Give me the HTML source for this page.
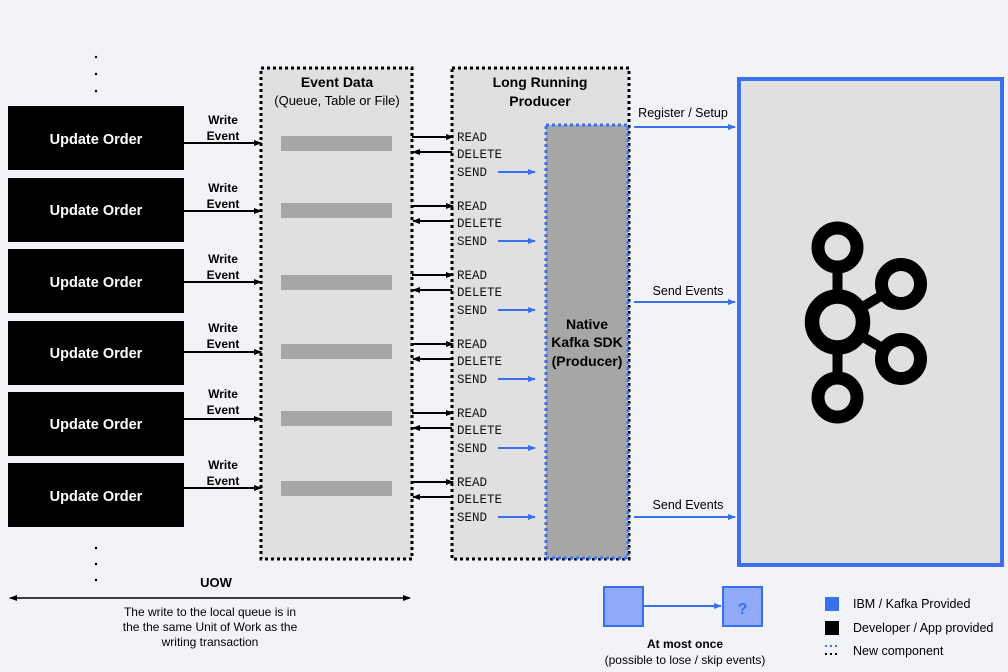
<!DOCTYPE html>
<html><head><meta charset="utf-8"><style>
html,body{margin:0;padding:0;background:#f2f3f7;}
svg{display:block;font-family:"Liberation Sans",Arial,sans-serif;}
.m{font-family:"Liberation Mono",monospace;font-size:12.5px;fill:#111;}
</style></head><body>
<svg width="1008" height="672" viewBox="0 0 1008 672" xmlns="http://www.w3.org/2000/svg">
<defs>
<marker id="ab" markerWidth="8" markerHeight="8" refX="7" refY="4" orient="auto" markerUnits="userSpaceOnUse"><path d="M0,1 L8,4 L0,7z" fill="#000"/></marker>
<marker id="au" markerWidth="8" markerHeight="8" refX="7" refY="4" orient="auto" markerUnits="userSpaceOnUse"><path d="M0,1 L8,4 L0,7z" fill="#3a6ff0"/></marker>
<marker id="as" markerWidth="8" markerHeight="8" refX="1" refY="4" orient="auto" markerUnits="userSpaceOnUse"><path d="M8,1 L0,4 L8,7z" fill="#000"/></marker>
</defs>
<rect width="1008" height="672" fill="#f2f3f7"/>
<!-- dots -->
<g fill="#000"><circle cx="96" cy="57" r="1.2"/><circle cx="96" cy="74" r="1.2"/><circle cx="96" cy="91" r="1.2"/><circle cx="96" cy="548" r="1.2"/><circle cx="96" cy="564" r="1.2"/><circle cx="96" cy="580" r="1.2"/></g>
<!-- Event Data box -->
<rect x="261" y="68" width="151" height="491" fill="#e0e0e0" stroke="#000" stroke-width="3" stroke-dasharray="3,3"/>
<text x="337" y="87" text-anchor="middle" font-size="14" font-weight="bold">Event Data</text>
<text x="337" y="105" text-anchor="middle" font-size="13">(Queue, Table or File)</text>
<!-- Producer box -->
<rect x="452" y="68" width="177" height="491" fill="#e0e0e0" stroke="#000" stroke-width="3" stroke-dasharray="3,3"/>
<text x="540" y="87" text-anchor="middle" font-size="14" font-weight="bold">Long Running</text>
<text x="540" y="106" text-anchor="middle" font-size="14" font-weight="bold">Producer</text>
<rect x="546" y="125" width="82" height="433" fill="#a6a6a6" stroke="#3a6ff0" stroke-width="3" stroke-dasharray="3,3"/>
<text x="587" y="329" text-anchor="middle" font-size="14" font-weight="bold">Native</text>
<text x="587" y="347" text-anchor="middle" font-size="14" font-weight="bold">Kafka SDK</text>
<text x="587" y="366" text-anchor="middle" font-size="14" font-weight="bold">(Producer)</text>
<!-- rows -->
<g id="rows">
<g transform="translate(0,0)">
<rect x="8" y="106" width="176" height="64" fill="#000"/><text x="96" y="144" text-anchor="middle" fill="#fff" font-size="14.5" font-weight="bold">Update Order</text>
<text x="223" y="124" text-anchor="middle" font-size="12" font-weight="bold">Write</text><text x="223" y="140" text-anchor="middle" font-size="12" font-weight="bold">Event</text>
<line x1="184" y1="143" x2="261" y2="143" stroke="#000" stroke-width="2" marker-end="url(#ab)"/>
<rect x="281" y="136" width="111" height="15" fill="#a6a6a6"/>
</g>
<g transform="translate(0,71)">
<rect x="8" y="107" width="176" height="64" fill="#000"/><text x="96" y="144" text-anchor="middle" fill="#fff" font-size="14.5" font-weight="bold">Update Order</text>
<text x="223" y="121" text-anchor="middle" font-size="12" font-weight="bold">Write</text><text x="223" y="137" text-anchor="middle" font-size="12" font-weight="bold">Event</text>
<line x1="184" y1="140" x2="261" y2="140" stroke="#000" stroke-width="2" marker-end="url(#ab)"/>
<rect x="281" y="132" width="111" height="15" fill="#a6a6a6"/>
</g>
<g transform="translate(0,143)">
<rect x="8" y="106" width="176" height="64" fill="#000"/><text x="96" y="144" text-anchor="middle" fill="#fff" font-size="14.5" font-weight="bold">Update Order</text>
<text x="223" y="120" text-anchor="middle" font-size="12" font-weight="bold">Write</text><text x="223" y="136" text-anchor="middle" font-size="12" font-weight="bold">Event</text>
<line x1="184" y1="139" x2="261" y2="139" stroke="#000" stroke-width="2" marker-end="url(#ab)"/>
<rect x="281" y="132" width="111" height="15" fill="#a6a6a6"/>
</g>
<g transform="translate(0,215)">
<rect x="8" y="106" width="176" height="64" fill="#000"/><text x="96" y="143" text-anchor="middle" fill="#fff" font-size="14.5" font-weight="bold">Update Order</text>
<text x="223" y="117" text-anchor="middle" font-size="12" font-weight="bold">Write</text><text x="223" y="133" text-anchor="middle" font-size="12" font-weight="bold">Event</text>
<line x1="184" y1="137" x2="261" y2="137" stroke="#000" stroke-width="2" marker-end="url(#ab)"/>
<rect x="281" y="129" width="111" height="15" fill="#a6a6a6"/>
</g>
<g transform="translate(0,286)">
<rect x="8" y="106" width="176" height="64" fill="#000"/><text x="96" y="143" text-anchor="middle" fill="#fff" font-size="14.5" font-weight="bold">Update Order</text>
<text x="223" y="112" text-anchor="middle" font-size="12" font-weight="bold">Write</text><text x="223" y="128" text-anchor="middle" font-size="12" font-weight="bold">Event</text>
<line x1="184" y1="133" x2="261" y2="133" stroke="#000" stroke-width="2" marker-end="url(#ab)"/>
<rect x="281" y="125" width="111" height="15" fill="#a6a6a6"/>
</g>
<g transform="translate(0,357)">
<rect x="8" y="106" width="176" height="64" fill="#000"/><text x="96" y="144" text-anchor="middle" fill="#fff" font-size="14.5" font-weight="bold">Update Order</text>
<text x="223" y="112" text-anchor="middle" font-size="12" font-weight="bold">Write</text><text x="223" y="128" text-anchor="middle" font-size="12" font-weight="bold">Event</text>
<line x1="184" y1="131" x2="261" y2="131" stroke="#000" stroke-width="2" marker-end="url(#ab)"/>
<rect x="281" y="124" width="111" height="15" fill="#a6a6a6"/>
</g>
</g>
<!-- READ/DELETE/SEND groups -->
<g>
<g transform="translate(0,0)"><line x1="412" y1="137" x2="453" y2="137" stroke="#000" stroke-width="2" marker-end="url(#ab)"/><line x1="413" y1="152" x2="452" y2="152" stroke="#000" stroke-width="2" marker-start="url(#as)"/><text x="457" y="141" class="m">READ</text><text x="457" y="158" class="m">DELETE</text><text x="457" y="176" class="m">SEND</text><line x1="498" y1="172" x2="535" y2="172" stroke="#3a6ff0" stroke-width="2" marker-end="url(#au)"/></g>
<g transform="translate(0,69)"><line x1="412" y1="137" x2="453" y2="137" stroke="#000" stroke-width="2" marker-end="url(#ab)"/><line x1="413" y1="152" x2="452" y2="152" stroke="#000" stroke-width="2" marker-start="url(#as)"/><text x="457" y="141" class="m">READ</text><text x="457" y="158" class="m">DELETE</text><text x="457" y="176" class="m">SEND</text><line x1="498" y1="172" x2="535" y2="172" stroke="#3a6ff0" stroke-width="2" marker-end="url(#au)"/></g>
<g transform="translate(0,138)"><line x1="412" y1="137" x2="453" y2="137" stroke="#000" stroke-width="2" marker-end="url(#ab)"/><line x1="413" y1="152" x2="452" y2="152" stroke="#000" stroke-width="2" marker-start="url(#as)"/><text x="457" y="141" class="m">READ</text><text x="457" y="158" class="m">DELETE</text><text x="457" y="176" class="m">SEND</text><line x1="498" y1="172" x2="535" y2="172" stroke="#3a6ff0" stroke-width="2" marker-end="url(#au)"/></g>
<g transform="translate(0,207)"><line x1="412" y1="137" x2="453" y2="137" stroke="#000" stroke-width="2" marker-end="url(#ab)"/><line x1="413" y1="152" x2="452" y2="152" stroke="#000" stroke-width="2" marker-start="url(#as)"/><text x="457" y="141" class="m">READ</text><text x="457" y="158" class="m">DELETE</text><text x="457" y="176" class="m">SEND</text><line x1="498" y1="172" x2="535" y2="172" stroke="#3a6ff0" stroke-width="2" marker-end="url(#au)"/></g>
<g transform="translate(0,276)"><line x1="412" y1="137" x2="453" y2="137" stroke="#000" stroke-width="2" marker-end="url(#ab)"/><line x1="413" y1="152" x2="452" y2="152" stroke="#000" stroke-width="2" marker-start="url(#as)"/><text x="457" y="141" class="m">READ</text><text x="457" y="158" class="m">DELETE</text><text x="457" y="176" class="m">SEND</text><line x1="498" y1="172" x2="535" y2="172" stroke="#3a6ff0" stroke-width="2" marker-end="url(#au)"/></g>
<g transform="translate(0,345)"><line x1="412" y1="137" x2="453" y2="137" stroke="#000" stroke-width="2" marker-end="url(#ab)"/><line x1="413" y1="152" x2="452" y2="152" stroke="#000" stroke-width="2" marker-start="url(#as)"/><text x="457" y="141" class="m">READ</text><text x="457" y="158" class="m">DELETE</text><text x="457" y="176" class="m">SEND</text><line x1="498" y1="172" x2="535" y2="172" stroke="#3a6ff0" stroke-width="2" marker-end="url(#au)"/></g>
</g>
<!-- Kafka box -->
<rect x="739" y="79" width="263" height="486" fill="#e0e0e0" stroke="#3a6ff0" stroke-width="4"/>
<g stroke="#3a6ff0" stroke-width="2">
<line x1="634" y1="127" x2="735" y2="127" marker-end="url(#au)"/>
<line x1="634" y1="302" x2="735" y2="302" marker-end="url(#au)"/>
<line x1="634" y1="517" x2="735" y2="517" marker-end="url(#au)"/>
</g>
<text x="683" y="117" text-anchor="middle" font-size="12.5">Register / Setup</text>
<text x="688" y="295" text-anchor="middle" font-size="12.5">Send Events</text>
<text x="688" y="509" text-anchor="middle" font-size="12.5">Send Events</text>
<!-- Kafka logo -->
<g stroke="#000" fill="none">
<line x1="837.5" y1="247" x2="837.5" y2="397" stroke-width="10"/>
<line x1="837.5" y1="322" x2="901" y2="284" stroke-width="10"/>
<line x1="837.5" y1="322" x2="901" y2="359" stroke-width="10"/>
<circle cx="837.5" cy="247.5" r="19.5" stroke-width="13" fill="#e0e0e0"/>
<circle cx="837.5" cy="397.5" r="19.5" stroke-width="13" fill="#e0e0e0"/>
<circle cx="901" cy="284" r="19.5" stroke-width="13" fill="#e0e0e0"/>
<circle cx="901" cy="359" r="19.5" stroke-width="13" fill="#e0e0e0"/>
<circle cx="837.5" cy="322" r="25.5" stroke-width="14.5" fill="#e0e0e0"/>
</g>
<!-- UOW -->
<text x="216" y="587" text-anchor="middle" font-size="13" font-weight="bold">UOW</text>
<line x1="10" y1="598" x2="410" y2="598" stroke="#000" stroke-width="1.5" marker-end="url(#ab)" marker-start="url(#as)"/>
<text x="210" y="616" text-anchor="middle" font-size="12">The write to the local queue is  in</text>
<text x="210" y="631" text-anchor="middle" font-size="12">the the same Unit of Work as the</text>
<text x="210" y="646" text-anchor="middle" font-size="12">writing transaction</text>
<!-- at most once -->
<rect x="604" y="587" width="39" height="39" fill="#8fabf7" stroke="#3a6ff0" stroke-width="2"/>
<rect x="723" y="587" width="39" height="39" fill="#8fabf7" stroke="#3a6ff0" stroke-width="2"/>
<text x="742.5" y="614" text-anchor="middle" font-size="16" font-weight="bold" fill="#3a6ff0">?</text>
<line x1="643" y1="606" x2="721" y2="606" stroke="#3a6ff0" stroke-width="2" marker-end="url(#au)"/>
<text x="685" y="648" text-anchor="middle" font-size="12" font-weight="bold">At most once</text>
<text x="685" y="664" text-anchor="middle" font-size="12">(possible to lose / skip events)</text>
<!-- legend -->
<rect x="825" y="597" width="14" height="14" fill="#3a6ff0"/>
<rect x="825" y="621" width="14" height="14" fill="#000"/>
<line x1="825" y1="646" x2="839" y2="646" stroke="#3a6ff0" stroke-width="2" stroke-dasharray="2,3"/>
<line x1="825" y1="654" x2="839" y2="654" stroke="#000" stroke-width="2" stroke-dasharray="2,3"/>
<text x="853" y="608" font-size="12.5">IBM / Kafka Provided</text>
<text x="853" y="632" font-size="12.5">Developer / App provided</text>
<text x="853" y="655" font-size="12.5">New component</text>
</svg>
</body></html>
